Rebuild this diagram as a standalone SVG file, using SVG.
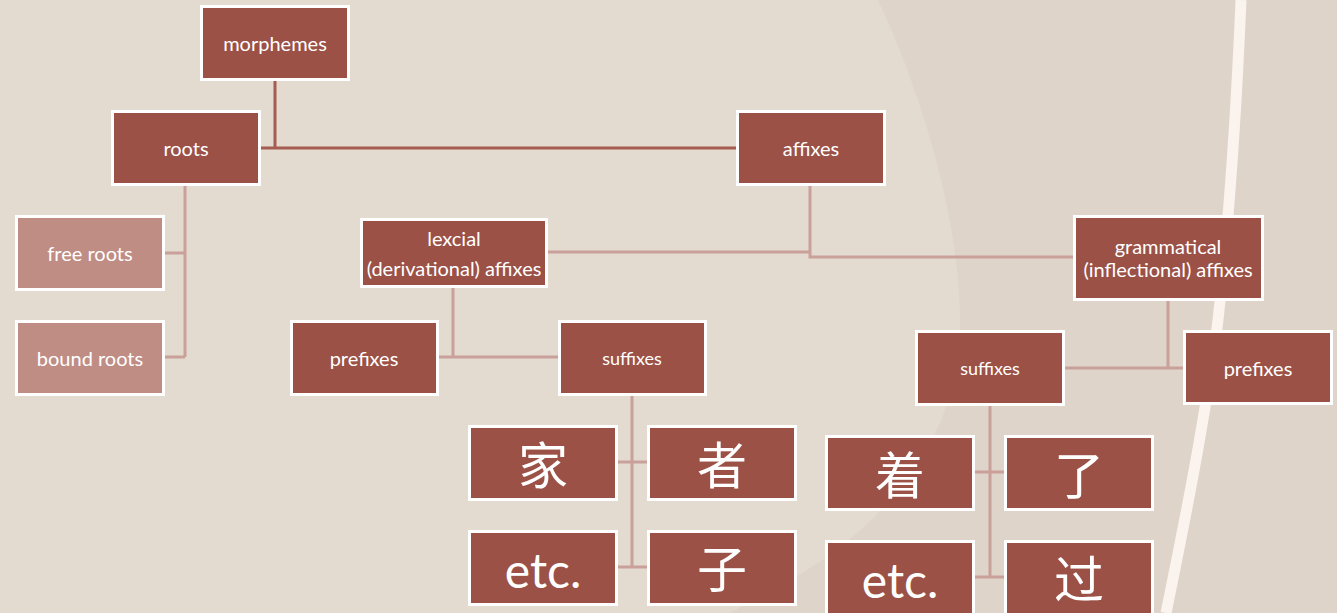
<svg xmlns="http://www.w3.org/2000/svg" width="1337" height="613" viewBox="0 0 1337 613">
<style>
.n{fill:#9B5146;stroke:#FFFFFF;stroke-width:3}
.l{fill:#C08D85;stroke:#FFFFFF;stroke-width:3}
.t{fill:#FFFFFF;font-family:Lato,"Open Sans","Liberation Sans",sans-serif;font-size:20px;text-anchor:middle;dominant-baseline:central}
.s{font-size:18px}
.c{fill:#FFFFFF;font-family:"Noto Sans CJK SC",sans-serif;font-size:50px;text-anchor:middle;dominant-baseline:central}
.e{fill:#FFFFFF;font-family:Lato,"Open Sans","Liberation Sans",sans-serif;font-size:48px;text-anchor:middle;dominant-baseline:central}
.k{fill:none;stroke:#A65C50;stroke-width:3}
.p{fill:none;stroke:#C9A09A;stroke-width:3}
</style>
<rect width="1337" height="613" fill="#DED4C9"/>
<path d="M0,0 L878,0 C930,110 970,260 958,360 C945,450 880,530 790,580 L730,613 L0,613 Z" fill="#E3DAD0"/>
<path d="M1241,0 C1236,120 1228,230 1218,320 C1205,420 1185,520 1166,613" fill="none" stroke="#FBF3EE" stroke-width="11"/>
<g id="connectors">
<path class="k" d="M275,80 V148 M260,148 H736"/>
<path class="p" d="M185,185 V357 M164,253 H185 M164,357 H185"/>
<path class="p" d="M810,185 V257 H1073 M547,252 H810"/>
<path class="p" d="M453,287 V357 M438,357 H558"/>
<path class="p" d="M632,395 V567 M617,462 H647 M617,567 H647"/>
<path class="p" d="M1168,300 V368 M1064,368 H1183"/>
<path class="p" d="M990,405 V577 M974,472 H1004 M974,577 H1004"/>
</g>
<g id="morphemes"><rect class="n" x="201.5" y="6.5" width="147" height="73"/><text class="t" x="275" y="43">morphemes</text></g>
<g id="roots"><rect class="n" x="112.5" y="111.5" width="147" height="73"/><text class="t" x="186" y="148">roots</text></g>
<g id="free-roots"><rect class="l" x="16.5" y="216.5" width="147" height="73"/><text class="t" x="90" y="253">free roots</text></g>
<g id="bound-roots"><rect class="l" x="16.5" y="321.5" width="147" height="73"/><text class="t" x="90" y="358">bound roots</text></g>
<g id="affixes"><rect class="n" x="737.5" y="111.5" width="147" height="73"/><text class="t" x="811" y="148">affixes</text></g>
<g id="lexical"><rect class="n" x="361.5" y="219.5" width="185" height="67"/><text class="t" x="454" y="238">lexcial</text><text class="t" x="454" y="268">(derivational) affixes</text></g>
<g id="grammatical"><rect class="n" x="1074.5" y="216.5" width="188" height="83"/><text class="t" x="1168" y="246">grammatical</text><text class="t" x="1168" y="269">(inflectional) affixes</text></g>
<g id="prefixes-l"><rect class="n" x="291.5" y="321.5" width="146" height="73"/><text class="t" x="364" y="358">prefixes</text></g>
<g id="suffixes-l"><rect class="n" x="559.5" y="321.5" width="146" height="73"/><text class="t s" x="632" y="358">suffixes</text></g>
<g id="suffixes-r"><rect class="n" x="916.5" y="331.5" width="147" height="73"/><text class="t s" x="990" y="368">suffixes</text></g>
<g id="prefixes-r"><rect class="n" x="1184.5" y="331.5" width="147" height="72"/><text class="t" x="1258" y="368">prefixes</text></g>
<g id="jia"><rect class="n" x="469.5" y="426.5" width="147" height="73"/><text class="c" x="543" y="462">家</text></g>
<g id="zhe"><rect class="n" x="648.5" y="426.5" width="147" height="73"/><text class="c" x="722" y="462">者</text></g>
<g id="etc-l"><rect class="n" x="469.5" y="531.5" width="147" height="73"/><text class="e" x="543" y="569">etc.</text></g>
<g id="zi"><rect class="n" x="648.5" y="531.5" width="147" height="73"/><text class="c" x="722" y="566">子</text></g>
<g id="zhao"><rect class="n" x="826.5" y="436.5" width="147" height="73"/><text class="c" x="900" y="472">着</text></g>
<g id="le"><rect class="n" x="1005.5" y="436.5" width="147" height="73"/><text class="c" x="1079" y="472">了</text></g>
<g id="etc-r"><rect class="n" x="826.5" y="541.5" width="147" height="80"/><text class="e" x="900" y="579">etc.</text></g>
<g id="guo"><rect class="n" x="1005.5" y="541.5" width="147" height="80"/><text class="c" x="1079" y="576">过</text></g>
</svg>
